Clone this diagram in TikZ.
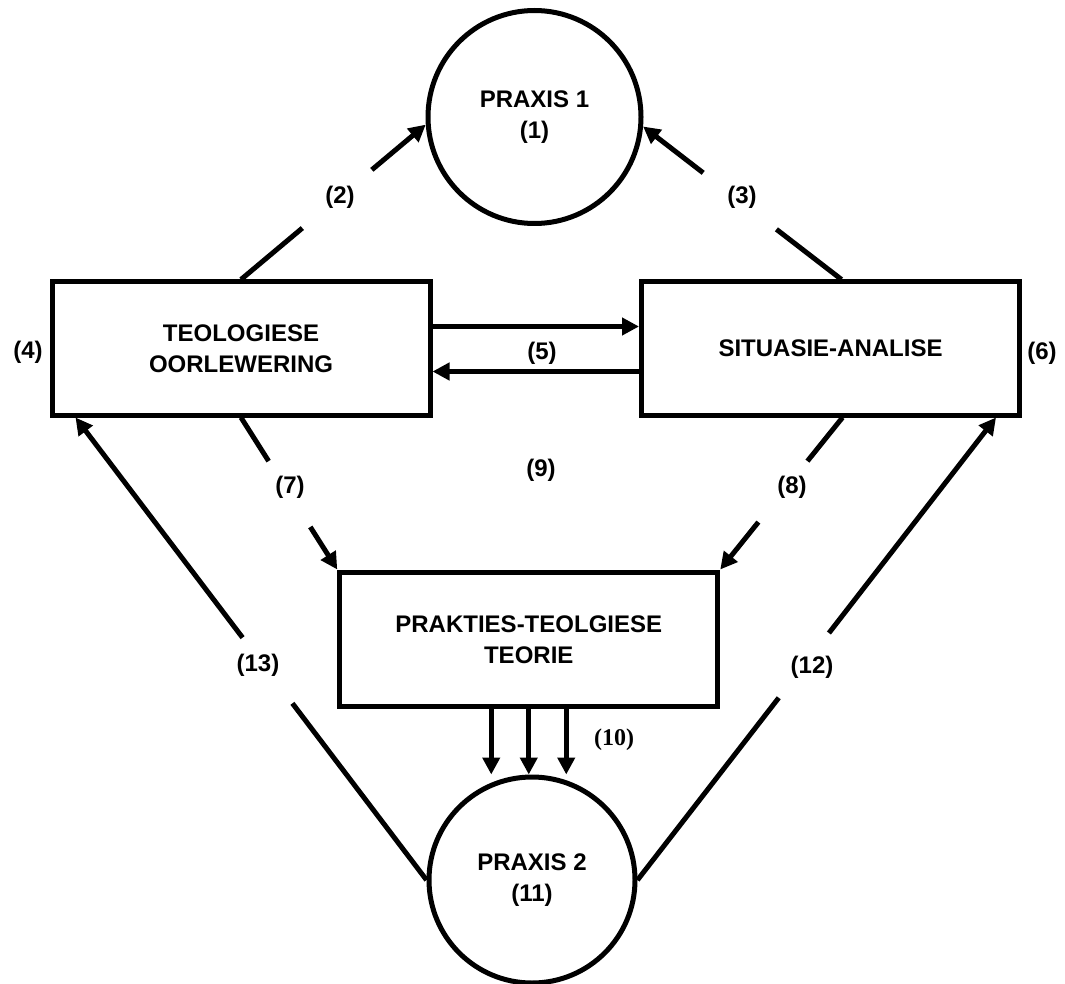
\documentclass[tikz,border=0pt]{standalone}
\usepackage{fontspec}
\setmainfont{Liberation Sans}
\newfontfamily\serifb{Liberation Serif}
\usetikzlibrary{arrows.meta,calc}
\begin{document}
\begin{tikzpicture}[x=1pt,y=-1pt,
  every node/.style={font=\bfseries\fontsize{24}{31}\selectfont},
  box/.style={draw,line width=5pt,minimum width=378pt,minimum height=133pt,inner sep=0pt,align=center},
  circ/.style={draw,circle,line width=5pt,inner sep=0pt,align=center},
  conn/.style={line width=5pt},
  arr/.style={line width=5pt,-{Triangle[length=17pt,width=17pt]}},
  lbl/.style={inner sep=0pt}]
\useasboundingbox (0,0) rectangle (1065,984);

\node[box] (lb) at (241,348.5) {TEOLOGIESE\\OORLEWERING};
\node[box] (rb) at (830.5,348.5) {SITUASIE-ANALISE};
\node[box,minimum height=134.5pt] (mb) at (528.75,639.25) {PRAKTIES-TEOLGIESE\\TEORIE};
\node[circ,minimum size=213pt] (tc) at (534.5,117) {PRAXIS 1\\(1)};
\node[circ,minimum size=206pt] (bc) at (532,880) {PRAXIS 2\\(11)};

\coordinate (a3) at ([xshift=11pt]rb.north);
\coordinate (a8) at ([xshift=12pt]rb.south);
\coordinate (t13) at ([xshift=26pt]lb.south west);
\coordinate (t12) at ([xshift=-26pt]rb.south east);

% (2)
\draw[conn] (lb.north) -- ($(lb.north)!0.332!(tc.184)$);
\draw[arr] ($(lb.north)!0.708!(tc.184)$) -- (tc.184);
% (3)
\draw[conn] (a3) -- ($(a3)!0.328!(tc.-5)$);
\draw[arr] ($(a3)!0.697!(tc.-5)$) -- (tc.-5);
% (5)
\draw[arr] ([yshift=22pt]lb.east) -- ([yshift=22pt]rb.west);
\draw[arr] ([yshift=-23pt]rb.west) -- ([yshift=-23pt]lb.east);
% (7)
\draw[conn] (lb.south) -- ($(lb.south)!0.287!(mb.north west)$);
\draw[arr] ($(lb.south)!0.72!(mb.north west)$) -- (mb.north west);
% (8)
\draw[conn] (a8) -- ($(a8)!0.287!(mb.north east)$);
\draw[arr] ($(a8)!0.688!(mb.north east)$) -- (mb.north east);
% (10)
\draw[arr] ([xshift=-37.5pt]mb.south) -- ([xshift=-37.5pt]mb.south |- bc.north);
\draw[arr] (mb.south) -- (mb.south |- bc.north);
\draw[arr] ([xshift=37.5pt]mb.south) -- ([xshift=37.5pt]mb.south |- bc.north);
% (13)
\draw[conn] (bc.west) -- ($(bc.west)!0.382!(t13)$);
\draw[arr] ($(bc.west)!0.524!(t13)$) -- (t13);
% (12)
\draw[conn] (bc.east) -- ($(bc.east)!0.394!(t12)$);
\draw[arr] ($(bc.east)!0.534!(t12)$) -- (t12);

\node[lbl] (l2) at (340,197) {(2)};
\node[lbl] (l3) at (742,197) {(3)};
\node[lbl] (l4) at (28,352) {(4)};
\node[lbl] (l5) at (542,353) {(5)};
\node[lbl] (l6) at (1042,353) {(6)};
\node[lbl] (l7) at (290,487) {(7)};
\node[lbl] (l8) at (792,487) {(8)};
\node[lbl] (l9) at (541,470) {(9)};
\node[lbl,font=\serifb\bfseries\fontsize{24}{31}\selectfont] (l10) at (614,740) {(10)};
\node[lbl] (l12) at (812,667) {(12)};
\node[lbl] (l13) at (258,665) {(13)};
\end{tikzpicture}
\end{document}
